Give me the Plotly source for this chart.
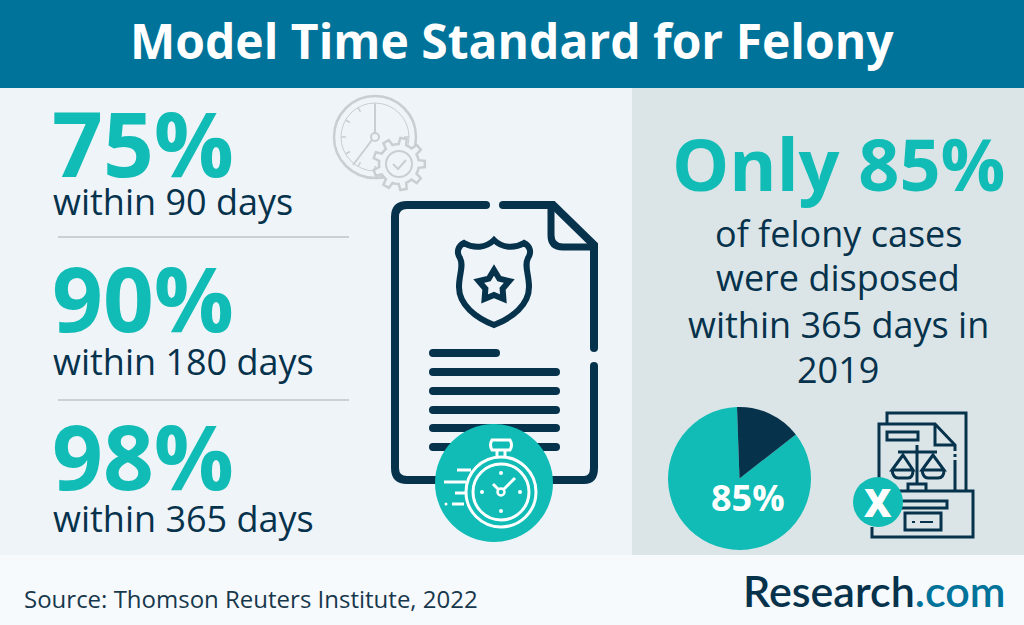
import math
import re
import plotly.graph_objects as go

W, H = 1024, 625
TEAL = "#10bcb5"
NAVY = "#06324c"
BLUE = "#00739b"
GRAY = "#c9ced1"
LEFT_BG = "#eff4f9"
RIGHT_BG = "#dbe5e7"
FOOT_BG = "#f7fafd"
FONT = "Open Sans"

# data
title_text = "Model Time Standard for Felony"
stat_percents = ["75%", "90%", "98%"]
stat_labels = ["within 90 days", "within 180 days", "within 365 days"]
headline = "Only 85%"
body_lines = ["of felony cases", "were disposed", "within 365 days in", "2019"]
pie_labels = ["Disposed within 365 days", "Not disposed"]
pie_values = [85, 15]
source_text = "Source: Thomson Reuters Institute, 2022"

shapes = []
annotations = []


def px(x):
    return x / W


def py(y):
    return 1 - y / H


def rect(x0, y0, x1, y1, fill, layer="above"):
    shapes.append(dict(type="rect", xref="paper", yref="paper", x0=px(x0), x1=px(x1),
                       y0=py(y0), y1=py(y1), fillcolor=fill, line_width=0, layer=layer))


def circle(cx, cy, r, fill="rgba(0,0,0,0)", color=None, w=0):
    shapes.append(dict(type="circle", xref="paper", yref="paper", x0=px(cx - r), x1=px(cx + r),
                       y0=py(cy - r), y1=py(cy + r), fillcolor=fill,
                       line=dict(color=color or fill, width=w)))


def path(d, color=None, w=0, fill="rgba(0,0,0,0)"):
    # d is written in pixels from the top left, converted here to paper coords
    out = []
    n = 0
    for tok in re.findall(r"[MLCQZ]|-?\d+\.?\d*", d):
        if tok.isalpha():
            out.append(tok)
            n = 0
        else:
            v = px(float(tok)) if n % 2 == 0 else py(float(tok))
            out.append(f"{v:.5f}")
            n += 1
    shapes.append(dict(type="path", xref="paper", yref="paper", path=" ".join(out), fillcolor=fill,
                       line=dict(color=color or "rgba(0,0,0,0)", width=w)))


def stroke(d, color, w):
    # round caps are not available on shapes, so put a dot on each open end
    path(d, color, w)
    nums = re.findall(r"-?\d+\.?\d*", d)
    circle(float(nums[0]), float(nums[1]), w / 2, fill=color)
    circle(float(nums[-2]), float(nums[-1]), w / 2, fill=color)


def text(x, y, s, size, color, bold=False, anchor="left", family=FONT, weight=None):
    annotations.append(dict(x=px(x), y=py(y), xref="paper", yref="paper", text=s, showarrow=False,
                            xanchor=anchor, yanchor="middle", align=anchor,
                            font=dict(family=family, size=size, color=color,
                                      weight=weight or (700 if bold else 400))))


def polar(cx, cy, r, deg):
    a = math.radians(deg)
    return cx + r * math.cos(a), cy + r * math.sin(a)


# panels
rect(0, 0, W, H, LEFT_BG, "below")
rect(0, 0, W, 88, BLUE, "below")
rect(632, 88, W, 555, RIGHT_BG, "below")
rect(0, 555, W, H, FOOT_BG, "below")

# separators on the left
for y in [237, 400]:
    path(f"M 58 {y} L 349 {y}", "#bfc4c7", 1.5)

# grey clock and gear
circle(375, 137, 41, color=GRAY, w=2.5)
circle(375, 137, 34, color=GRAY, w=1)
path("M 375 104 L 375 133", GRAY, 2)
path("M 372 140 L 353 165", GRAY, 2)
circle(375, 137, 4, color=GRAY, w=2)
for deg in [0, 90, 180, 270, 30, 60, 120, 150, 210, 240]:
    x0, y0 = polar(375, 137, 34, deg)
    x1, y1 = polar(375, 137, 29, deg)
    path(f"M {x0:.1f} {y0:.1f} L {x1:.1f} {y1:.1f}", GRAY, 1.5)
gear = []
for i in range(9):
    base = i * 40
    for dr, da in [(20, -20), (20, -11), (26, -7), (26, 7), (20, 11)]:
        gx, gy = polar(399, 164, dr, base + da)
        gear.append(f"{gx:.1f} {gy:.1f}")
path("M " + " L ".join(gear) + " Z", GRAY, 2.5, fill=LEFT_BG)
circle(399, 164, 13, fill=LEFT_BG, color=GRAY, w=2)
path("M 393 164 L 398 169 L 406 160", GRAY, 2)

# document
stroke("M 486 205 L 407 205 Q 395 205 395 217 L 395 468 Q 395 480 407 480 L 584 480 Q 594 480 594 468 L 594 366", NAVY, 8)
stroke("M 594 348 L 594 245 L 553 205 L 503 205", NAVY, 8)
path("M 551 205 L 551 235 Q 551 247 563 247 L 594 247", NAVY, 7)

# shield with star
path("M 494 240 C 486 248 474 249 464 243 C 458 246 456 252 460 258 C 464 266 459 274 459 287 "
     "C 459 305 476 318 494 325 C 512 318 529 305 529 287 C 529 274 524 266 528 258 "
     "C 532 252 530 246 524 243 C 514 249 502 248 494 240 Z", NAVY, 6)
star = []
for i in range(10):
    r = 16 if i % 2 == 0 else 9
    sx, sy = polar(494, 286, r, -90 + i * 36)
    star.append(f"{sx:.1f} {sy:.1f}")
path("M " + " L ".join(star) + " Z", NAVY, 6)

# text rows of the document
stroke("M 433 353 L 496 353", NAVY, 8)
for y in [372, 391, 410, 428, 447]:
    stroke(f"M 433 {y} L 556 {y}", NAVY, 8)

# stopwatch badge
circle(494, 483, 59, fill=TEAL)
circle(501, 492, 35, color="white", w=3)
circle(501, 492, 28, color="white", w=3)
path("M 492 440 L 510 440 Q 513 445 510 450 L 492 450 Q 489 445 492 440 Z", "white", 3)
path("M 497 450 L 497 457 M 505 450 L 505 457", "white", 3)
path("M 501 492 L 515 478", "white", 3)
path("M 501 492 L 493 484", "white", 3)
circle(501, 492, 3.5, fill=TEAL, color="white", w=2.5)
for dx, dy in [(0, -19), (0, 19), (-19, 0), (19, 0)]:
    circle(501 + dx, 492 + dy, 2, fill="white")
for y, x0, x1 in [(470, 457, 471), (482, 444, 466), (493, 455, 465), (504, 452, 464)]:
    path(f"M {x0} {y} L {x1} {y}", "white", 3)
circle(446, 504, 1.5, fill="white")

# scales of justice icon
LW = 3
path("M 887 423 L 887 413 L 966 413 L 966 490", NAVY, LW)
path("M 879 478 L 879 424 L 935 424 L 955 445 L 955 451", NAVY, LW)
path("M 935 424 L 935 445 L 955 445", NAVY, LW)
path("M 955 454 L 955 457 M 955 460 L 955 490", NAVY, LW)
path("M 887 432 L 918 432 L 918 440 L 887 440 Z", NAVY, LW)
path("M 917 445 L 917 484 M 898 452 L 937 452", NAVY, LW)
path("M 903 455 L 892 470 L 913 470 Z M 892 470 Q 893 478 898 478 L 908 478 Q 913 478 913 470", NAVY, LW)
path("M 933 455 L 922 470 L 944 470 Z M 922 470 Q 923 478 928 478 L 938 478 Q 944 478 944 470", NAVY, LW)
path("M 908 491 L 908 484 L 926 484 L 926 491", NAVY, LW)
path("M 890 491 L 973 491 L 973 537 L 872 537 L 872 527", NAVY, LW)
path("M 895 501 L 947 501 L 947 508 L 895 508", NAVY, LW)
path("M 905 513 L 941 513 L 941 530 L 905 530 Z", NAVY, LW)
path("M 912 522 L 915 522 M 920 522 L 933 522", NAVY, 2)
circle(878, 502, 25, fill=TEAL)

# text
text(512, 41, title_text, 48, "white", anchor="center", bold=True)
for i, (pct, lab) in enumerate(zip(stat_percents, stat_labels)):
    text(50, [142, 297, 455][i], pct, 89, TEAL, bold=True)
    text(51, [202, 361, 518][i], lab, 36, NAVY)
text(838, 163, headline, 72, TEAL, bold=True, anchor="center")
for y, line in zip([233, 277, 324, 369], body_lines):
    text(838, y, line, 36, NAVY, anchor="center")
text(748, 497, "85%", 36, "white", bold=True, anchor="center")
text(878, 502, "X", 38, "white", anchor="center", weight=800)
text(22, 598, source_text, 24, "#17384c")
text(741, 590, f'Research<span style="color:{BLUE}">.com</span>', 43, NAVY,
     family="Lato", weight=600)

fig = go.Figure(go.Pie(
    labels=pie_labels,
    values=pie_values,
    sort=False,
    direction="clockwise",
    rotation=52,
    marker=dict(colors=[TEAL, NAVY], line_width=0),
    textinfo="none",
    hoverinfo="label+percent",
    showlegend=False,
    domain=dict(x=[px(668), px(811)], y=[py(550), py(407)]),
))
fig.update_layout(
    width=W,
    height=H,
    margin=dict(l=0, r=0, t=0, b=0),
    paper_bgcolor=LEFT_BG,
    shapes=shapes,
    annotations=annotations,
    showlegend=False,
)
fig.write_html("out.html", post_script="document.body.style.margin='0';",
               config=dict(displayModeBar=False))
